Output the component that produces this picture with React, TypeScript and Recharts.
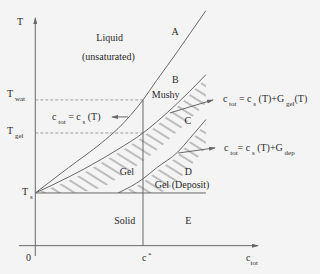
import React from 'react';
import { ComposedChart, Line, Area, XAxis, YAxis, ReferenceLine, ReferenceDot } from 'recharts';

// c_tot samples shared by the three phase boundaries
const cPts = [0, 15, 30, 37.5, 48.8, 55, 64.5, 70, 77.3];
const upperCurve = [22.3, 33, 43.5, 49.6, 61.7, 70, 82.3, 89.7, 99.5]; // liquid / mushy
const middleCurve = [22.3, 29, 36.6, 40.8, 47.7, 52.4, 60.4, 65.4, 72.4]; // mushy / gel
const lowerCurve = [null, null, null, 22.3, 28.3, 33, 39.6, 45.4, 53.4]; // gel / deposit

const tS = 22.3;
const tGel = 47.7;
const tWat = 61.7;
const cStar = 48.8;
const cEnd = 77.3;

type Part = [string, 'n' | 'sub' | 'sup'];
type Note = { c: number; t: number; parts: Part[]; anchor: string };

// axis tick labels
const xTickLabels: Note[] = [
  { c: -3.1, t: -6.5, parts: [['0', 'n']], anchor: 'middle' },
  { c: 48.3, t: -6.5, parts: [['c', 'n'], [' *', 'sup']], anchor: 'start' },
  { c: 95.5, t: -6.5, parts: [['c', 'n'], ['tot', 'sub']], anchor: 'start' },
];
const yTickLabels: Note[] = [
  { c: -6.9, t: 93.6, parts: [['T', 'n']], anchor: 'middle' },
  { c: -12.8, t: 63.0, parts: [['T', 'n'], [' wat', 'sub']], anchor: 'start' },
  { c: -12.8, t: 47.3, parts: [['T', 'n'], [' gel', 'sub']], anchor: 'start' },
  { c: -6.0, t: 21.5, parts: [['T', 'n'], [' s', 'sub']], anchor: 'start' },
];

// region names and boundary formulas
const regionLabels: Note[] = [
  { c: 33.7, t: 86.7, parts: [['Liquid', 'n']], anchor: 'middle' },
  { c: 33.1, t: 78.8, parts: [['(unsaturated)', 'n']], anchor: 'middle' },
  { c: 63.3, t: 89.0, parts: [['A', 'n']], anchor: 'middle' },
  { c: 63.5, t: 68.7, parts: [['B', 'n']], anchor: 'middle' },
  { c: 59.1, t: 62.7, parts: [['Mushy', 'n']], anchor: 'middle' },
  { c: 69.1, t: 51.5, parts: [['C', 'n']], anchor: 'middle' },
  { c: 41.5, t: 29.9, parts: [['Gel', 'n']], anchor: 'middle' },
  { c: 69.4, t: 29.9, parts: [['D', 'n']], anchor: 'middle' },
  { c: 66.5, t: 24.2, parts: [['Gel (Deposit)', 'n']], anchor: 'middle' },
  { c: 40.5, t: 9.2, parts: [['Solid', 'n']], anchor: 'middle' },
  { c: 69.3, t: 9.2, parts: [['E', 'n']], anchor: 'middle' },
  { c: 7.6, t: 53.2, parts: [['c', 'n'], [' tot', 'sub'], [' = c', 'n'], [' s', 'sub'], [' (T)', 'n']], anchor: 'start' },
  { c: 85.0, t: 60.8, parts: [['c', 'n'], [' tot', 'sub'], [' = c', 'n'], [' s', 'sub'], [' (T)+G', 'n'], [' gel', 'sub'], ['(T)', 'n']], anchor: 'start' },
  { c: 85.5, t: 40.1, parts: [['c', 'n'], [' tot', 'sub'], ['= c', 'n'], [' s', 'sub'], [' (T)+G', 'n'], [' dep', 'sub']], anchor: 'start' },
];

// arrows pointing from the curves to the formulas
const arrows: [number, number, number, number][] = [
  [42.0, 54.5, 34.8, 54.5],
  [61.0, 56.2, 80.5, 61.7],
  [64.7, 39.2, 81.4, 41.4],
];

const rows = cPts.map((c, i) => ({ c, upper: upperCurve[i], middle: middleCurve[i], lower: lowerCurve[i] }));

const ink = '#686868';
const textInk = '#2a2a2a';
const serif = "'Liberation Serif', 'DejaVu Serif', serif";
const hatchDepth = 12; // thickness of the hatched strip under a boundary
const hatchGap = 1.5;

// hatched strip hanging under a boundary curve, never below T_s
const strip = (v: number | null) => {
  if (v == null) return null;
  const hi = Math.max(tS, v - hatchGap);
  const lo = Math.max(tS, v - hatchDepth);
  return [lo, hi];
};

const Label = ({ cx, cy, parts, anchor }: any) => {
  let shift = 0;
  return (
    <text x={cx} y={cy} textAnchor={anchor} style={{ fontFamily: serif }} fontFamily={serif} fontSize={10} fill={textInk}>
      {parts.map(([s, k]: Part, i: number) => {
        const target = k === 'sub' ? 4 : k === 'sup' ? -4 : 0;
        const dy = target - shift;
        shift = target;
        return (
          <tspan key={i} dy={dy} fontSize={k === 'n' ? 10 : 7}>
            {s}
          </tspan>
        );
      })}
    </text>
  );
};

const plainLine = (p: any) => <line x1={p.x1} y1={p.y1} x2={p.x2} y2={p.y2} stroke={ink} strokeWidth={1} />;
const arrowLine = (p: any) => (
  <line x1={p.x1} y1={p.y1} x2={p.x2} y2={p.y2} stroke={ink} strokeWidth={1} markerEnd="url(#ahead)" />
);
const dashLine = (p: any) => (
  <line x1={p.x1} y1={p.y1} x2={p.x2} y2={p.y2} stroke="#888" strokeWidth={0.8} strokeDasharray="3 2" />
);

export default function App() {
  const notes = [...xTickLabels, ...yTickLabels, ...regionLabels];
  return (
    <div style={{ position: 'absolute', left: 0, top: 0, width: 320, height: 274, background: '#f4f4f4' }}>
      <ComposedChart width={320} height={274} data={rows} margin={{ top: 0, right: 0, bottom: 0, left: 0 }}>
        <defs>
          <marker id="ahead" markerWidth={7} markerHeight={4} refX={6} refY={2} orient="auto" markerUnits="userSpaceOnUse">
            <path d="M0,0 L7,2 L0,4 z" fill={ink} />
          </marker>
          <pattern id="hatch" width={10} height={8} patternUnits="userSpaceOnUse" patternTransform="rotate(32)">
            <line x1={0} y1={4} x2={10} y2={4} stroke={ink} strokeWidth={0.8} />
          </pattern>
        </defs>
        <XAxis dataKey="c" type="number" domain={[-16, 129]} hide allowDataOverflow />
        <YAxis type="number" domain={[-12, 104]} hide allowDataOverflow />

        <Area
          type="monotone"
          dataKey={(d: any) => strip(d.middle)}
          stroke="none"
          fill="url(#hatch)"
          fillOpacity={1}
          isAnimationActive={false}
          activeDot={false}
        />
        <Area
          type="monotone"
          dataKey={(d: any) => strip(d.lower)}
          stroke="none"
          fill="url(#hatch)"
          fillOpacity={1}
          isAnimationActive={false}
          activeDot={false}
        />

        {/* axes */}
        <ReferenceLine segment={[{ x: -7.4, y: 0 }, { x: 100.9, y: 0 }]} shape={arrowLine} />
        <ReferenceLine segment={[{ x: 0, y: -4.4 }, { x: 0, y: 96.4 }]} shape={arrowLine} />

        {/* guide lines */}
        <ReferenceLine segment={[{ x: 0, y: tWat }, { x: cStar, y: tWat }]} shape={dashLine} />
        <ReferenceLine segment={[{ x: 0, y: tGel }, { x: cStar, y: tGel }]} shape={dashLine} />
        <ReferenceLine segment={[{ x: cStar, y: 0 }, { x: cStar, y: tWat }]} shape={plainLine} />
        <ReferenceLine segment={[{ x: 0, y: tS }, { x: cEnd, y: tS }]} shape={plainLine} />

        <Line type="monotone" dataKey="upper" stroke={ink} strokeWidth={1} dot={false} activeDot={false} isAnimationActive={false} />
        <Line type="monotone" dataKey="middle" stroke={ink} strokeWidth={1} dot={false} activeDot={false} isAnimationActive={false} />
        <Line type="monotone" dataKey="lower" stroke={ink} strokeWidth={1} dot={false} activeDot={false} isAnimationActive={false} />

        {arrows.map(([x1, y1, x2, y2], i) => (
          <ReferenceLine key={'a' + i} segment={[{ x: x1, y: y1 }, { x: x2, y: y2 }]} shape={arrowLine} />
        ))}

        {notes.map((n, i) => (
          <ReferenceDot
            key={'n' + i}
            x={n.c}
            y={n.t}
            r={0}
            shape={(p: any) => <Label cx={p.cx} cy={p.cy} parts={n.parts} anchor={n.anchor} />}
          />
        ))}
      </ComposedChart>
    </div>
  );
}
